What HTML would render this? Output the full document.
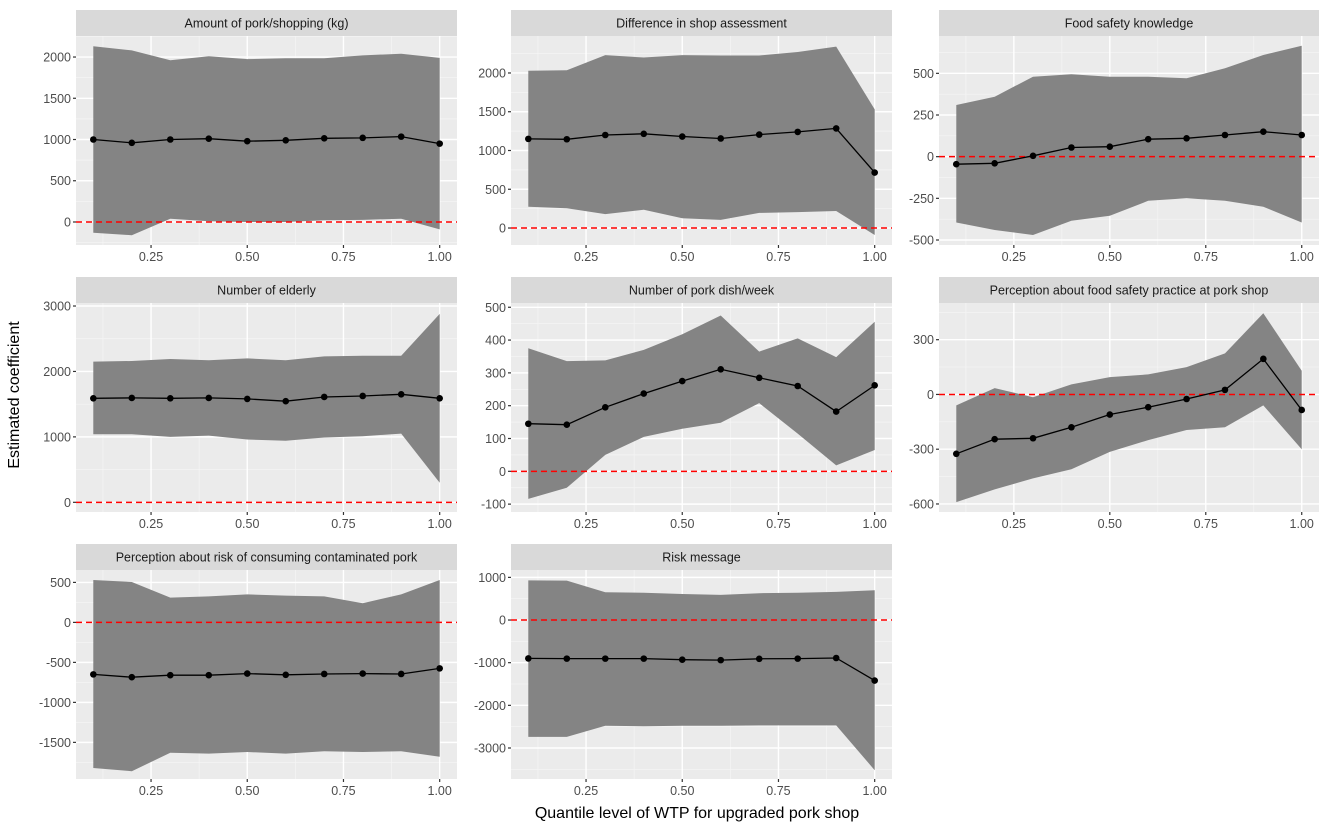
<!DOCTYPE html>
<html><head><meta charset="utf-8">
<style>
html,body{margin:0;padding:0;background:#fff;}
svg{display:block;font-family:"Liberation Sans",Arial,sans-serif;}
</style></head>
<body>
<svg id="chart" width="1325" height="829" viewBox="0 0 1325 829" xmlns="http://www.w3.org/2000/svg">
<text x="0" y="0" transform="translate(19,395) rotate(-90)" text-anchor="middle" font-size="16" fill="#000">Estimated coefficient</text>
<text x="697" y="818" text-anchor="middle" font-size="16" fill="#000">Quantile level of WTP for upgraded pork shop</text>
</svg>
<script>
const quantiles = [0.1,0.2,0.3,0.4,0.5,0.6,0.7,0.8,0.9,1.0];
const xTicks = [0.25,0.5,0.75,1.0];
const xTickLabels = ["0.25","0.50","0.75","1.00"];
const panelTitles = ["Amount of pork/shopping (kg)","Difference in shop assessment","Food safety knowledge","Number of elderly","Number of pork dish/week","Perception about food safety practice at pork shop","Perception about risk of consuming contaminated pork","Risk message"];

const estAmount = [1000,960,1000,1010,980,990,1015,1020,1035,950];
const hiAmount = [2130,2080,1960,2010,1975,1985,1985,2020,2040,1990];
const loAmount = [-130,-160,40,10,0,0,20,25,40,-90];

const estDiff = [1150,1145,1200,1215,1180,1155,1205,1240,1285,715];
const hiDiff = [2030,2035,2230,2200,2230,2225,2225,2270,2340,1530];
const loDiff = [275,255,180,235,125,105,195,205,220,-90];

const estKnow = [-45,-40,5,55,60,105,110,130,150,130];
const hiKnow = [310,360,480,495,480,480,470,530,610,665];
const loKnow = [-395,-440,-470,-385,-355,-265,-250,-265,-300,-395];

const estElder = [1590,1595,1590,1595,1580,1545,1610,1625,1650,1590];
const hiElder = [2150,2160,2190,2170,2200,2170,2230,2240,2240,2880];
const loElder = [1040,1040,1000,1020,960,940,990,1010,1050,300];

const estDish = [145,142,195,237,275,311,285,260,182,262];
const hiDish = [375,336,338,370,418,475,365,405,348,456];
const loDish = [-84,-50,50,105,130,148,208,115,18,65];

const estPractice = [-325,-245,-240,-180,-110,-70,-25,25,195,-85];
const hiPractice = [-60,35,-15,55,95,110,150,225,445,130];
const loPractice = [-590,-520,-460,-410,-315,-250,-195,-180,-60,-300];

const estRisk = [-650,-685,-660,-660,-640,-655,-645,-640,-645,-575];
const hiRisk = [530,505,310,325,350,335,325,240,350,530];
const loRisk = [-1820,-1860,-1630,-1640,-1620,-1640,-1610,-1620,-1610,-1680];

const estMsg = [-900,-905,-905,-905,-930,-940,-910,-905,-890,-1420];
const hiMsg = [930,925,650,640,610,590,630,640,660,700];
const loMsg = [-2740,-2740,-2480,-2490,-2480,-2480,-2470,-2470,-2470,-3520];

const yTicksAmount = [0,500,1000,1500,2000];
const yTicksDiff = [0,500,1000,1500,2000];
const yTicksKnow = [-500,-250,0,250,500];
const yTicksElder = [0,1000,2000,3000];
const yTicksDish = [-100,0,100,200,300,400,500];
const yTicksPractice = [-600,-300,0,300];
const yTicksRisk = [-1500,-1000,-500,0,500];
const yTicksMsg = [-3000,-2000,-1000,0,1000];

const yLimits = [[-279,2255],[-219,2477],[-530,724],[-148,3046],[-124,513],[-644,501],[-1958,655],[-3727,1173]];

const panels = [
 {est:estAmount,hi:hiAmount,lo:loAmount,yt:yTicksAmount},
 {est:estDiff,hi:hiDiff,lo:loDiff,yt:yTicksDiff},
 {est:estKnow,hi:hiKnow,lo:loKnow,yt:yTicksKnow},
 {est:estElder,hi:hiElder,lo:loElder,yt:yTicksElder},
 {est:estDish,hi:hiDish,lo:loDish,yt:yTicksDish},
 {est:estPractice,hi:hiPractice,lo:loPractice,yt:yTicksPractice},
 {est:estRisk,hi:hiRisk,lo:loRisk,yt:yTicksRisk},
 {est:estMsg,hi:hiMsg,lo:loMsg,yt:yTicksMsg}
];

const colX = [[76,457],[511,892],[939,1319]];
const rowY = [[10,36,245],[277,303,512],[544,570,779]];
const NS = "http://www.w3.org/2000/svg";
const svg = document.getElementById('chart');
function mk(tag, attrs, parent){
  const e = document.createElementNS(NS, tag);
  for (const k in attrs) e.setAttribute(k, attrs[k]);
  (parent||svg).appendChild(e);
  return e;
}
const xMin = 0.055, xMax = 1.045;

panels.forEach((p, i) => {
  const c = colX[i % 3], r = rowY[Math.floor(i / 3)];
  const [y0, y1] = yLimits[i];
  const xs = v => c[0] + (v - xMin) / (xMax - xMin) * (c[1] - c[0]);
  const ys = v => r[2] - (v - y0) / (y1 - y0) * (r[2] - r[1]);
  const g = mk('g', {});
  
  

  const strip = mk('rect', {x:c[0], y:r[0], width:c[1]-c[0], height:r[1]-r[0], fill:'#d9d9d9'}, g);
  
  
  const st = mk('text', {x:(c[0]+c[1])/2, y:(r[0]+r[1])/2+4.5, 'text-anchor':'middle', 'font-size':'12.5', fill:'#1a1a1a'}, g);
  st.textContent = panelTitles[i];
  
  

  const bg = mk('rect', {x:c[0], y:r[1], width:c[1]-c[0], height:r[2]-r[1], fill:'#ebebeb'}, g);
  
  

  // minor gridlines
  const xt = xTicks;
  const xMinor = [0.125,0.375,0.625,0.875];
  xMinor.forEach(v => mk('line', {x1:xs(v), x2:xs(v), y1:r[1], y2:r[2], stroke:'#f5f5f5', 'stroke-width':0.7}, g));
  for (let k = 0; k < p.yt.length - 1; k++) {
    const m = (p.yt[k] + p.yt[k+1]) / 2;
    mk('line', {x1:c[0], x2:c[1], y1:ys(m), y2:ys(m), stroke:'#f5f5f5', 'stroke-width':0.7}, g);
  }
  const step = p.yt[1] - p.yt[0];
  [p.yt[0] - step/2, p.yt[p.yt.length-1] + step/2].forEach(m => {
    if (m > y0 && m < y1) mk('line', {x1:c[0], x2:c[1], y1:ys(m), y2:ys(m), stroke:'#f5f5f5', 'stroke-width':0.7}, g);
  });
  // major gridlines + ticks
  xt.forEach((v, k) => {
    mk('line', {x1:xs(v), x2:xs(v), y1:r[1], y2:r[2], stroke:'#fff', 'stroke-width':1.4}, g);
    mk('line', {x1:xs(v), x2:xs(v), y1:r[2], y2:r[2]+3, stroke:'#333', 'stroke-width':1.2}, g);
    const t = mk('text', {x:xs(v), y:r[2]+16, 'text-anchor':'middle', 'font-size':'12.5', fill:'#4d4d4d'}, g);
    t.textContent = xTickLabels[k];
    
    
  });
  p.yt.forEach(v => {
    mk('line', {x1:c[0], x2:c[1], y1:ys(v), y2:ys(v), stroke:'#fff', 'stroke-width':1.4}, g);
    mk('line', {x1:c[0]-3, x2:c[0], y1:ys(v), y2:ys(v), stroke:'#333', 'stroke-width':1.2}, g);
    const t = mk('text', {x:c[0]-5, y:ys(v)+4.5, 'text-anchor':'end', 'font-size':'12.5', fill:'#4d4d4d'}, g);
    t.textContent = String(v);
    
    
  });

  // ribbon
  let d = '';
  quantiles.forEach((q, k) => { d += (k ? 'L' : 'M') + xs(q).toFixed(1) + ',' + ys(p.hi[k]).toFixed(1); });
  for (let k = quantiles.length - 1; k >= 0; k--) d += 'L' + xs(quantiles[k]).toFixed(1) + ',' + ys(p.lo[k]).toFixed(1);
  const rib = mk('path', {d: d + 'Z', fill:'#848484'}, g);
  
  

  // zero line
  const z = mk('line', {x1:c[0], x2:c[1], y1:ys(0), y2:ys(0), stroke:'#ff0000', 'stroke-width':1.5, 'stroke-dasharray':'6,4'}, g);
  
  

  // estimate line
  const pts = quantiles.map((q, k) => xs(q).toFixed(1) + ',' + ys(p.est[k]).toFixed(1)).join(' ');
  const ln = mk('polyline', {points:pts, fill:'none', stroke:'#000', 'stroke-width':1.3}, g);
  
  
  quantiles.forEach((q, k) => {
    const pt = mk('circle', {cx:xs(q), cy:ys(p.est[k]), r:3.3, fill:'#000'}, g);
    
    
  });
});
</script>
</body></html>
